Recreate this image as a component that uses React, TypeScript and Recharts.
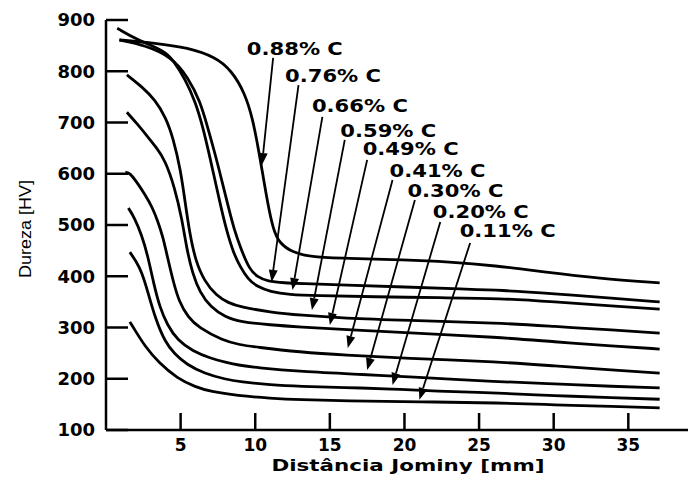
import { LineChart, Line, XAxis, YAxis, ReferenceLine, ReferenceDot } from 'recharts'

type Pt = { d: number; v: number }

// carbon content of each curve (top to bottom)
const carbon = ['0.88', '0.76', '0.66', '0.59', '0.49', '0.41', '0.30', '0.20', '0.11']

// [distance mm, hardness HV]
const c088 = [[0.9, 861], [3.3, 855], [5.5, 846], [7.3, 828], [8.4, 802], [9.3, 758], [9.85, 705], [10.2, 650], [10.5, 600], [10.85, 540], [11.2, 492], [11.6, 465], [12.5, 446], [13.9, 437], [16, 435], [20, 432], [23, 428], [26, 421], [29.5, 408], [33, 396], [37.1, 387]]
const c076 = [[0.9, 861], [2.6, 851], [4.4, 828], [5.5, 788], [6.3, 742], [6.8, 692], [7.3, 640], [7.75, 588], [8.2, 535], [8.6, 490], [9.0, 457], [9.6, 413], [10.2, 398], [10.8, 390], [12, 387], [13, 386], [16, 383], [20, 379], [24, 375], [26.4, 373], [30, 366], [34, 357], [37.1, 350]]
const c066 = [[0.75, 884], [2.1, 861], [3.9, 840], [4.5, 822], [5.3, 785], [6.0, 740], [6.5, 690], [6.9, 640], [7.3, 588], [7.7, 535], [8.1, 487], [8.55, 445], [9.0, 418], [9.5, 395], [10.1, 380], [11, 370], [12.3, 364], [14, 362], [18, 360], [22.4, 358], [26.4, 357], [30, 350], [34, 342], [37.1, 336]]
const c059 = [[1.4, 793], [2.4, 770], [3.3, 744], [4.0, 710], [4.5, 670], [5.0, 607], [5.3, 545], [5.6, 485], [6.0, 430], [6.6, 390], [7.4, 362], [8.2, 348], [9, 340], [11, 330], [13, 324], [16, 318], [20, 314], [26.4, 309], [30, 302], [34, 295], [37.1, 289]]
const c049 = [[1.4, 720], [2.1, 697], [2.8, 672], [3.4, 650], [3.95, 627], [4.6, 574], [5.1, 510], [5.4, 455], [5.8, 405], [6.3, 368], [7.0, 340], [8, 320], [9, 311], [11, 305], [13, 301], [16, 296], [20, 290], [26.4, 281], [30, 272], [34, 264], [37.1, 258]]
const c041 = [[1.3, 603], [1.6, 602], [2.1, 582], [2.6, 560], [3.1, 535], [3.5, 505], [3.8, 478], [4.1, 440], [4.5, 390], [4.9, 350], [5.5, 320], [6.2, 300], [7.8, 275], [9, 266], [10, 262], [13, 252], [16, 246], [20, 240], [26.4, 233], [30, 225], [34, 217], [37.1, 211]]
const c030 = [[1.5, 533], [1.9, 515], [2.4, 480], [2.8, 440], [3.2, 385], [3.6, 340], [4.1, 305], [4.8, 275], [5.8, 254], [7.0, 240], [8, 232], [9, 226], [10, 222], [13, 214], [17.5, 208], [20, 204], [26.4, 194], [30, 190], [34, 185], [37.1, 182]]
const c020 = [[1.6, 447], [2.0, 430], [2.4, 408], [2.8, 370], [3.3, 318], [3.95, 272], [4.6, 248], [5.4, 228], [6.6, 210], [8, 199], [9, 194], [11, 188], [13, 185], [16, 183], [19.2, 180], [22, 176], [26.4, 172], [30, 167], [34, 163], [37.1, 160]]
const c011 = [[1.6, 311], [2.0, 292], [2.6, 264], [3.5, 232], [4.8, 200], [6.0, 184], [7, 175], [8.8, 167], [11, 162], [13, 159], [16, 157], [21, 155], [26.4, 153], [30, 149], [34, 146], [37.1, 143]]

const curves = [c088, c076, c066, c059, c049, c041, c030, c020, c011]

// label text anchor (left, baseline) in data units
const labelD = [9.44, 12.0, 13.8, 15.7, 17.2, 19.0, 20.2, 21.9, 23.7]
const labelV = [832, 779, 720, 672, 637, 594, 555, 514, 477]
// arrow from label to curve
const fromD = [11.2, 12.9, 14.5, 16.0, 17.5, 19.2, 20.7, 22.4, 24.4]
const fromV = [826, 773, 711, 666, 627, 588, 549, 506, 465]
const toD = [10.45, 11.1, 12.5, 13.8, 15.0, 16.2, 17.5, 19.2, 21.0]
const toV = [617, 389, 373, 334, 305, 260, 217, 188, 159]

const xTicks = [5, 10, 15, 20, 25, 30, 35]
const yTicks = [100, 200, 300, 400, 500, 600, 700, 800, 900]

const BOLD = '"DejaVu Sans", sans-serif'

const toPts = (a: number[][]): Pt[] => a.map(([d, v]) => ({ d, v }))

function YTick({ x, y, payload }: any) {
  return (
    <g>
      <line x1={x} x2={x + 22} y1={y} y2={y} stroke="#000" strokeWidth={2.5} />
      <text x={x - 11} y={y} dy="0.36em" textAnchor="end" fontFamily={BOLD} fontWeight="bold" fontSize={18} fill="#000">
        {payload.value}
      </text>
    </g>
  )
}

function XTick({ x, y, payload }: any) {
  return (
    <g>
      <line x1={x} x2={x} y1={y} y2={y - 17} stroke="#000" strokeWidth={2.5} />
      <text x={x} y={y + 21} textAnchor="middle" fontFamily={BOLD} fontWeight="bold" fontSize={17} fill="#000">
        {payload.value}
      </text>
    </g>
  )
}

function Arrow({ x1, y1, x2, y2 }: any) {
  const dx = x2 - x1
  const dy = y2 - y1
  const len = Math.sqrt(dx * dx + dy * dy) || 1
  const ux = dx / len
  const uy = dy / len
  const bx = x2 - ux * 12
  const by = y2 - uy * 12
  const px = -uy * 4.5
  const py = ux * 4.5
  return (
    <g>
      <line x1={x1} y1={y1} x2={bx} y2={by} stroke="#000" strokeWidth={1.8} />
      <polygon points={`${x2},${y2} ${bx + px},${by + py} ${bx - px},${by - py}`} fill="#000" />
    </g>
  )
}

export default function App() {
  return (
    <div style={{ position: 'absolute', left: 0, top: 0, width: 688, height: 481, background: '#fff' }}>
      <LineChart width={688} height={481} margin={{ top: 20, right: 0, bottom: 0, left: 0 }}>
        <XAxis
          dataKey="d"
          type="number"
          domain={[0, 39]}
          ticks={xTicks}
          height={51}
          tickSize={0}
          tickMargin={0}
          tick={<XTick />}
          axisLine={{ stroke: '#000', strokeWidth: 2.5 }}
          tickLine={false}
          allowDuplicatedCategory={false}
        />
        <YAxis
          type="number"
          domain={[100, 900]}
          ticks={yTicks}
          width={106}
          tickSize={0}
          tickMargin={0}
          tick={<YTick />}
          axisLine={{ stroke: '#000', strokeWidth: 2.5 }}
          tickLine={false}
        />
        {curves.map((c, i) => (
          <Line
            key={carbon[i]}
            data={toPts(c)}
            dataKey="v"
            type="basis"
            stroke="#000"
            strokeWidth={2.8}
            dot={false}
            activeDot={false}
            isAnimationActive={false}
          />
        ))}
        {carbon.map((c, i) => (
          <ReferenceLine
            key={'a' + c}
            segment={[{ x: fromD[i], y: fromV[i] }, { x: toD[i], y: toV[i] }]}
            shape={(p: any) => <Arrow {...p} />}
          />
        ))}
        {carbon.map((c, i) => (
          <ReferenceDot
            key={'l' + c}
            x={labelD[i]}
            y={labelV[i]}
            r={0}
            shape={(p: any) => (
              <text
                x={p.cx}
                y={p.cy}
                fontFamily={BOLD}
                fontWeight="bold"
                fontSize={17}
                textLength={96}
                lengthAdjust="spacingAndGlyphs"
                fill="#000"
              >
                {c}% C
              </text>
            )}
          />
        ))}
      </LineChart>
      <svg width={688} height={481} style={{ position: 'absolute', left: 0, top: 0, pointerEvents: 'none' }}>
        <text
          x={408}
          y={471}
          textAnchor="middle"
          fontFamily={BOLD}
          fontWeight="bold"
          fontSize={16.5}
          textLength={273}
          lengthAdjust="spacingAndGlyphs"
          fill="#000"
        >
          Distância Jominy [mm]
        </text>
        <text
          transform="translate(31,229) rotate(-90)"
          textAnchor="middle"
          fontFamily='"Liberation Sans", sans-serif'
          fontSize={17}
          textLength={98}
          lengthAdjust="spacingAndGlyphs"
          fill="#000"
        >
          Dureza [HV]
        </text>
      </svg>
    </div>
  )
}
